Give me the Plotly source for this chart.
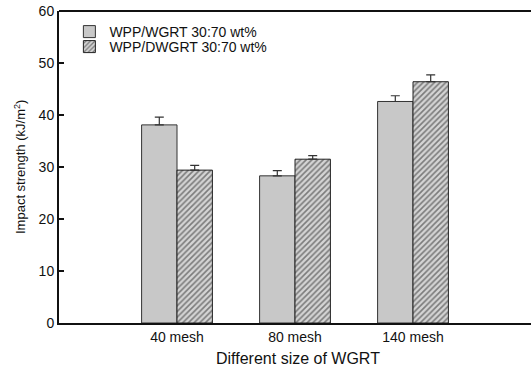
import plotly.graph_objects as go

categories = ["40 mesh", "80 mesh", "140 mesh"]
cat_pos = [1, 2, 3]
wgrt_values = [38.1, 28.3, 42.6]
wgrt_err = [1.5, 1.0, 1.1]
dwgrt_values = [29.4, 31.5, 46.4]
dwgrt_err = [0.9, 0.7, 1.3]
y_ticks = [0, 10, 20, 30, 40, 50, 60]

font = "Liberation Sans, Arial, sans-serif"

fig = go.Figure()
fig.add_trace(go.Bar(
    x=cat_pos, y=wgrt_values, name="WPP/WGRT 30:70 wt%",
    marker=dict(color="#c8c8c8", line=dict(color="#333333", width=1)),
    error_y=dict(type="data", array=wgrt_err, arrayminus=[0, 0, 0],
                 color="#333333", thickness=1.2, width=4.5),
    offset=-0.3, width=0.3, legend="legend",
))
fig.add_trace(go.Bar(
    x=cat_pos, y=dwgrt_values, name="WPP/DWGRT 30:70 wt%",
    marker=dict(color="#d4d4d4", line=dict(color="#222222", width=1),
                pattern=dict(shape="/", fgcolor="#222222", bgcolor="#d4d4d4",
                             size=4, solidity=0.4)),
    error_y=dict(type="data", array=dwgrt_err, arrayminus=[0, 0, 0],
                 color="#333333", thickness=1.2, width=4.5),
    offset=0.0, width=0.3, legend="legend2",
))

L, R, T, B = 59, 0, 11, 45
PW, PH = 531 - L - R, 368 - T - B

legend_common = dict(xanchor="left", yanchor="top", bgcolor="rgba(0,0,0,0)",
                     font=dict(size=14))

fig.update_layout(
    width=531, height=368,
    margin=dict(l=L, r=R, t=T, b=B, autoexpand=False),
    paper_bgcolor="white", plot_bgcolor="white",
    font=dict(family=font, size=14, color="#111111"),
    barmode="overlay",
    showlegend=True,
    legend=dict(x=0.022, y=(323 - 16) / PH, **legend_common),
    legend2=dict(x=0.022, y=(323 - 31) / PH, **legend_common),
    xaxis=dict(
        range=[0, 4], tickmode="array", tickvals=cat_pos, ticktext=categories,
        showline=True, linecolor="#111111", linewidth=2, mirror=False,
        ticks="", showgrid=False, zeroline=False, automargin=False,
        tickfont=dict(size=14),
    ),
    yaxis=dict(
        range=[0, 60], tickvals=y_ticks,
        showline=True, linecolor="#111111", linewidth=2,
        ticks="inside", ticklen=5, tickwidth=1.5, tickcolor="#111111",
        showgrid=False, zeroline=False, automargin=False,
        tickfont=dict(size=14),
    ),
    annotations=[
        dict(text="Different size of WGRT", xref="paper", yref="paper",
             x=(298 - L) / PW, y=(323 - 358) / PH, xanchor="center", yanchor="middle",
             showarrow=False, font=dict(size=16)),
        dict(text="Impact strength (kJ/m<sup>2</sup>)", xref="paper", yref="paper",
             x=(20 - L) / PW, y=0.5, xanchor="center", yanchor="middle", textangle=-90,
             showarrow=False, font=dict(size=13)),
    ],
)
# top border line of the frame
fig.add_shape(type="line", xref="paper", yref="paper", x0=0, x1=1, y0=1, y1=1,
              line=dict(color="#111111", width=2))

fig.write_html(
    "out.html",
    config={"displayModeBar": False},
    post_script="document.body.style.margin='0';document.body.style.overflow='hidden';",
)
